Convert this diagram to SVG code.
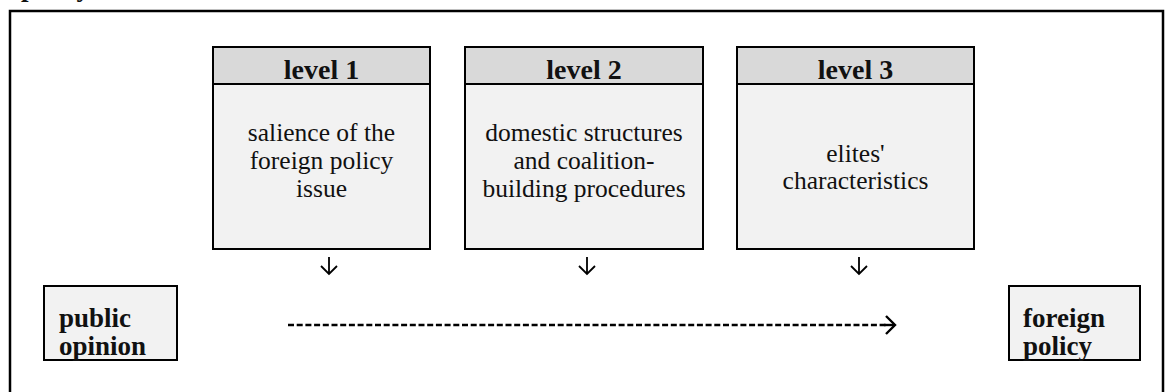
<svg xmlns="http://www.w3.org/2000/svg" width="1165" height="392" viewBox="0 0 1165 392">
<style>
.frame{fill:none;stroke:#000;stroke-width:2.5}
.head{fill:#d9d9d9;stroke:#000;stroke-width:2}
.body{fill:#f2f2f2;stroke:#000;stroke-width:2}
.hd{font-family:"Liberation Serif","Times New Roman",serif;font-weight:bold;font-size:28px;fill:#111;text-anchor:middle}
.tx{font-family:"Liberation Serif","Times New Roman",serif;font-size:25.5px;fill:#111;text-anchor:middle}
.bd{font-family:"Liberation Serif","Times New Roman",serif;font-weight:bold;font-size:27px;fill:#111}
.conn{fill:none;stroke:#000;stroke-width:1.8}
.dash{fill:none;stroke:#000;stroke-width:2.6;stroke-dasharray:6 2.7}
</style>
<text class="bd" x="21" y="-4">policy</text>
<rect class="frame" x="10" y="11" width="1153" height="400"/>
<g id="level1">
<rect class="body" x="213" y="47" width="217" height="202"/>
<rect class="head" x="213" y="47" width="217" height="37"/>
<text class="hd" x="321.5" y="79">level 1</text>
<text class="tx" x="321.5" y="141">salience of the</text>
<text class="tx" x="321.5" y="169">foreign policy</text>
<text class="tx" x="321.5" y="197">issue</text>
</g>
<g id="level2">
<rect class="body" x="465" y="47" width="238" height="202"/>
<rect class="head" x="465" y="47" width="238" height="37"/>
<text class="hd" x="584" y="79">level 2</text>
<text class="tx" x="584" y="141">domestic structures</text>
<text class="tx" x="584" y="169">and coalition-</text>
<text class="tx" x="584" y="197">building procedures</text>
</g>
<g id="level3">
<rect class="body" x="737" y="47" width="237" height="202"/>
<rect class="head" x="737" y="47" width="237" height="37"/>
<text class="hd" x="855.5" y="79">level 3</text>
<text class="tx" x="855.5" y="162">elites'</text>
<text class="tx" x="855.5" y="189">characteristics</text>
</g>
<g id="public-opinion">
<rect class="body" x="44" y="286" width="133" height="74"/>
<text class="bd" x="59" y="327">public</text>
<text class="bd" x="59" y="355">opinion</text>
</g>
<g id="foreign-policy">
<rect class="body" x="1009" y="286" width="131" height="74"/>
<text class="bd" x="1023" y="327">foreign</text>
<text class="bd" x="1023" y="355">policy</text>
</g>
<g id="connectors">
<path class="conn" d="M329,257 V274 M321,266 L329,274 L337,266"/>
<path class="conn" d="M587,257 V274 M579,266 L587,274 L595,266"/>
<path class="conn" d="M859,257 V274 M851,266 L859,274 L867,266"/>
<path class="dash" d="M288,325 H886"/>
<path d="M886,316 L895,325 L886,334" fill="none" stroke="#000" stroke-width="2.4"/>
<path d="M884,325 H894" stroke="#000" stroke-width="2.4"/>
</g>
</svg>
